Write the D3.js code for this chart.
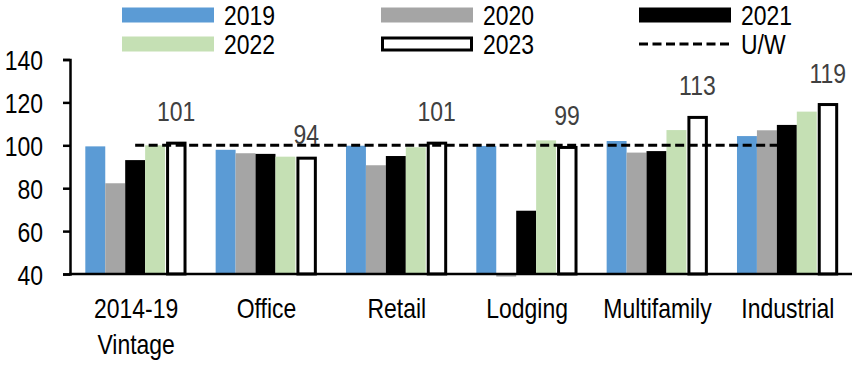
<!DOCTYPE html>
<html>
<head>
<meta charset="utf-8">
<script src="https://cdn.jsdelivr.net/npm/d3@7"></script>
<style>
  html, body { margin: 0; padding: 0; background: #fff; }
  svg { display: block; }
  text { font-family: "Liberation Sans", Arial, sans-serif; }
</style>
</head>
<body>
<svg id="chart" width="852" height="380"></svg>
<script>
// ---- data ----
const categories = [["2014-19", "Vintage"], ["Office"], ["Retail"], ["Lodging"], ["Multifamily"], ["Industrial"]];
const seriesNames = ["2019", "2020", "2021", "2022", "2023"];
const v2019 = [99.5, 97.9, 99.8, 99.7, 102.0, 104.3];
const v2020 = [82.3, 96.3, 90.7, 38.8, 96.6, 107.0];
const v2021 = [93.1, 96.0, 95.0, 69.5, 97.3, 109.5];
const v2022 = [100.0, 94.7, 99.1, 102.3, 107.1, 115.7];
const v2023 = [101, 94, 101, 99, 113, 119];
const labels2023 = ["101", "94", "101", "99", "113", "119"];
const uwValue = 100;
const yTicks = [40, 60, 80, 100, 120, 140];
const yDomain = [40, 140];

const seriesValues = [v2019, v2020, v2021, v2022, v2023];
const colors = ["#5B9BD5", "#A5A5A5", "#000000", "#C5E0B4", "#FFFFFF"];

// ---- layout ----
const svg = d3.select("#chart");
const plotLeft = 70, plotRight = 852, plotTop = 59.5, plotBottom = 274;
const FS = 28;
const NARROW = 0.82;

// condense text horizontally (Arial Narrow look)
function narrow(sel) {
  sel.each(function () {
    const t = d3.select(this);
    const x = +(t.attr("x") || 0);
    t.attr("x", x / NARROW).attr("transform", `scale(${NARROW},1)`);
  });
}

const catIdx = categories.map((c, i) => i);
const x0 = d3.scaleBand().domain(catIdx).range([plotLeft, plotRight]).padding(0);
const groupW = x0.bandwidth() * 0.765;
const x1 = d3.scaleBand().domain(d3.range(seriesNames.length)).range([0, groupW]).padding(0);
const y = d3.scaleLinear().domain(yDomain).range([plotBottom, plotTop]);

// ---- bars ----
const gBars = svg.append("g");
seriesValues.forEach((vals, s) => {
  gBars.selectAll(null).data(vals).enter().append("rect")
    .attr("x", (d, i) => {
      const bx = x0(i) + (x0.bandwidth() - groupW) / 2 + x1(s);
      return s === 4 ? bx + 2.5 : bx;
    })
    .attr("width", s === 4 ? x1.bandwidth() - 2.5 : x1.bandwidth())
    .attr("y", d => Math.min(y(d), y(yDomain[0])))
    .attr("height", d => Math.abs(y(yDomain[0]) - y(d)))
    .attr("fill", colors[s])
    .attr("stroke", s === 4 ? "#000" : "none")
    .attr("stroke-width", s === 4 ? 3 : 0);
});

// ---- axes ----
const yAxis = d3.axisLeft(y).tickValues(yTicks).tickSize(7).tickPadding(20);
const gy = svg.append("g").attr("transform", `translate(${plotLeft},0)`).call(yAxis);
gy.select(".domain").attr("stroke", "#000").attr("stroke-width", 2.5);
gy.selectAll(".tick line").attr("stroke", "#000").attr("stroke-width", 2.5);
gy.selectAll(".tick text").attr("font-size", FS).attr("fill", "#000")
  .attr("font-family", '"Liberation Sans", Arial, sans-serif')
  .attr("dy", "0.36em")
  .call(narrow);

svg.append("line")
  .attr("x1", plotLeft - 1).attr("x2", plotRight)
  .attr("y1", y(yDomain[0])).attr("y2", y(yDomain[0]))
  .attr("stroke", "#000").attr("stroke-width", 2.5);

// category labels
const gx = svg.append("g");
categories.forEach((lines, i) => {
  const cx = x0(i) + x0.bandwidth() / 2 + 1;
  lines.forEach((ln, k) => {
    gx.append("text")
      .attr("x", cx)
      .attr("y", 318 + k * 36)
      .attr("text-anchor", "middle")
      .attr("font-size", FS)
      .attr("fill", "#000")
      .text(ln)
      .call(narrow);
  });
});

// ---- U/W dashed line ----
const uwLine = d3.line()
  .x(d => x0(d) + x0.bandwidth() / 2)
  .y(() => y(uwValue));
svg.append("path")
  .datum(catIdx)
  .attr("d", uwLine)
  .attr("fill", "none")
  .attr("stroke", "#000")
  .attr("stroke-width", 3)
  .attr("stroke-dasharray", "9,4.5");

// ---- 2023 value labels ----
svg.selectAll(null).data(v2023).enter().append("text")
  .attr("x", (d, i) => x0(i) + (x0.bandwidth() - groupW) / 2 + x1(4) + x1.bandwidth() / 2 + 1)
  .attr("y", (d, i) => labels2023[i] === "94" ? y(uwValue) - 1 : y(d) - 22)
  .attr("text-anchor", "middle")
  .attr("font-size", FS)
  .attr("fill", "#404040")
  .text((d, i) => labels2023[i])
  .call(narrow);

// ---- legend ----
const legendItems = [
  { name: seriesNames[0], type: "bar", color: colors[0], col: 0, row: 0 },
  { name: seriesNames[1], type: "bar", color: colors[1], col: 1, row: 0 },
  { name: seriesNames[2], type: "bar", color: colors[2], col: 2, row: 0 },
  { name: seriesNames[3], type: "bar", color: colors[3], col: 0, row: 1 },
  { name: seriesNames[4], type: "bar", color: colors[4], col: 1, row: 1 },
  { name: "U/W", type: "line", col: 2, row: 1 }
];
const colX = [122, 381, 639];
const rowY = [15, 44];
const sw = 92, sh = 15;
const gl = svg.append("g");
legendItems.forEach(it => {
  const sx = colX[it.col], cy = rowY[it.row];
  if (it.type === "bar") {
    const outlined = it.color === "#FFFFFF";
    gl.append("rect")
      .attr("x", outlined ? sx + 1.5 : sx)
      .attr("y", outlined ? cy - sh / 2 + 1.5 : cy - sh / 2)
      .attr("width", outlined ? sw - 3 : sw)
      .attr("height", outlined ? sh - 3 : sh)
      .attr("fill", it.color)
      .attr("stroke", outlined ? "#000" : "none")
      .attr("stroke-width", outlined ? 3 : 0);
  } else {
    gl.append("line")
      .attr("x1", sx).attr("x2", sx + sw)
      .attr("y1", cy).attr("y2", cy)
      .attr("stroke", "#000").attr("stroke-width", 3)
      .attr("stroke-dasharray", "9,4.5");
  }
  gl.append("text")
    .attr("x", sx + sw + 10)
    .attr("y", cy + 10.5)
    .attr("font-size", FS)
    .attr("fill", "#000")
    .text(it.name)
    .call(narrow);
});
</script>
</body>
</html>
